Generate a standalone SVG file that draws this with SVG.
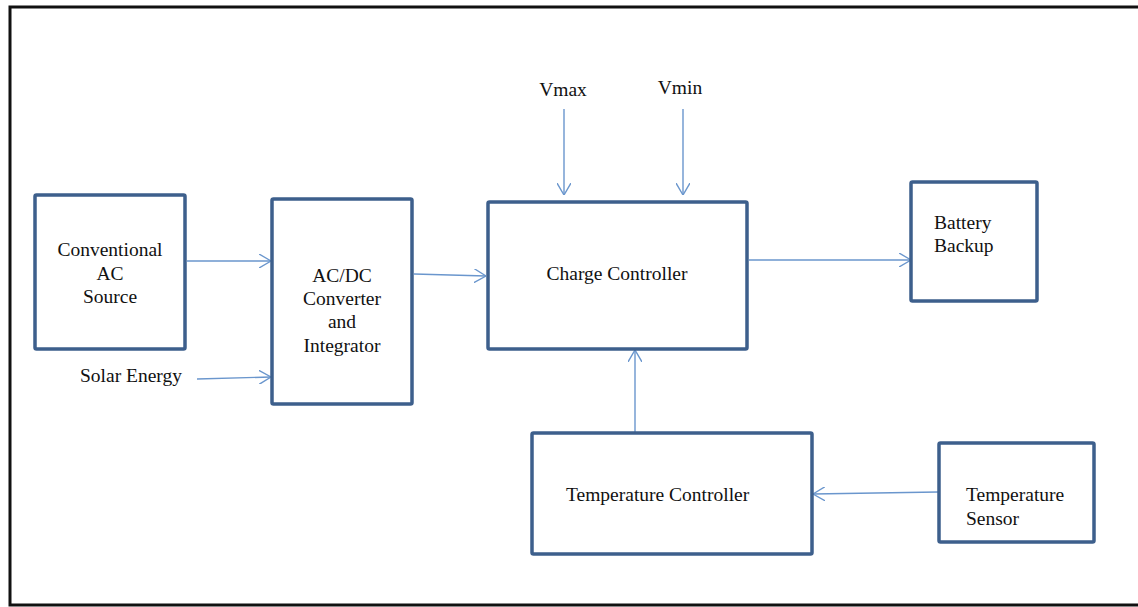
<svg xmlns="http://www.w3.org/2000/svg" width="1138" height="607" viewBox="0 0 1138 607">
<style>
.box{fill:#fff;stroke:#3D5F8C;stroke-width:3.5;stroke-linejoin:round}
.lbl{font-family:"Liberation Serif","Times New Roman",serif;font-size:19.5px;fill:#111}
.c{text-anchor:middle}
.con{stroke:#6A96CD;stroke-width:1.4;fill:none;marker-end:url(#ah)}
</style>
<defs>
<marker id="ah" viewBox="0 0 12 14" refX="12" refY="7" markerWidth="12" markerHeight="14" markerUnits="userSpaceOnUse" orient="auto">
<path d="M0,0 L12,7 L0,14" fill="none" stroke="#6A96CD" stroke-width="1.4"/>
</marker>
</defs>
<rect width="1138" height="607" fill="#fff"/>
<g id="frame" stroke="#111" stroke-width="3" fill="none">
<path d="M1140,7 L10,7 L10,605 L1140,605"/>
</g>
<g id="connectors">
<line class="con" x1="187" y1="261" x2="271" y2="261"/>
<line class="con" x1="197" y1="379" x2="271" y2="377"/>
<line class="con" x1="414" y1="274" x2="486" y2="276"/>
<line class="con" x1="564" y1="109" x2="564" y2="195"/>
<line class="con" x1="683" y1="109" x2="683" y2="195"/>
<line class="con" x1="749" y1="260" x2="911" y2="260"/>
<line class="con" x1="635" y1="432" x2="635" y2="350"/>
<line class="con" x1="938" y1="492" x2="813" y2="494"/>
</g>
<g id="ac-source">
<rect class="box" x="35" y="195" width="150" height="154" rx="1.5"/>
<text class="lbl c" x="110" y="256">Conventional</text>
<text class="lbl c" x="110" y="280">AC</text>
<text class="lbl c" x="110" y="303">Source</text>
</g>
<g id="solar">
<text class="lbl c" x="131" y="382">Solar Energy</text>
</g>
<g id="converter">
<rect class="box" x="272" y="199" width="140" height="205" rx="1.5"/>
<text class="lbl c" x="342" y="282">AC/DC</text>
<text class="lbl c" x="342" y="305">Converter</text>
<text class="lbl c" x="342" y="328">and</text>
<text class="lbl c" x="342" y="352">Integrator</text>
</g>
<g id="vmax"><text class="lbl c" x="563" y="96">Vmax</text></g>
<g id="vmin"><text class="lbl c" x="680" y="94">Vmin</text></g>
<g id="charge-controller">
<rect class="box" x="488" y="202" width="259" height="147" rx="1.5"/>
<text class="lbl c" x="617" y="280">Charge Controller</text>
</g>
<g id="battery">
<rect class="box" x="911" y="182" width="126" height="119" rx="1.5"/>
<text class="lbl" x="934" y="229">Battery</text>
<text class="lbl" x="934" y="252">Backup</text>
</g>
<g id="temp-controller">
<rect class="box" x="532" y="433" width="280" height="121" rx="1.5"/>
<text class="lbl" x="566" y="501">Temperature Controller</text>
</g>
<g id="temp-sensor">
<rect class="box" x="939" y="443" width="155" height="99" rx="1.5"/>
<text class="lbl" x="966" y="501">Temperature</text>
<text class="lbl" x="966" y="525">Sensor</text>
</g>
</svg>
